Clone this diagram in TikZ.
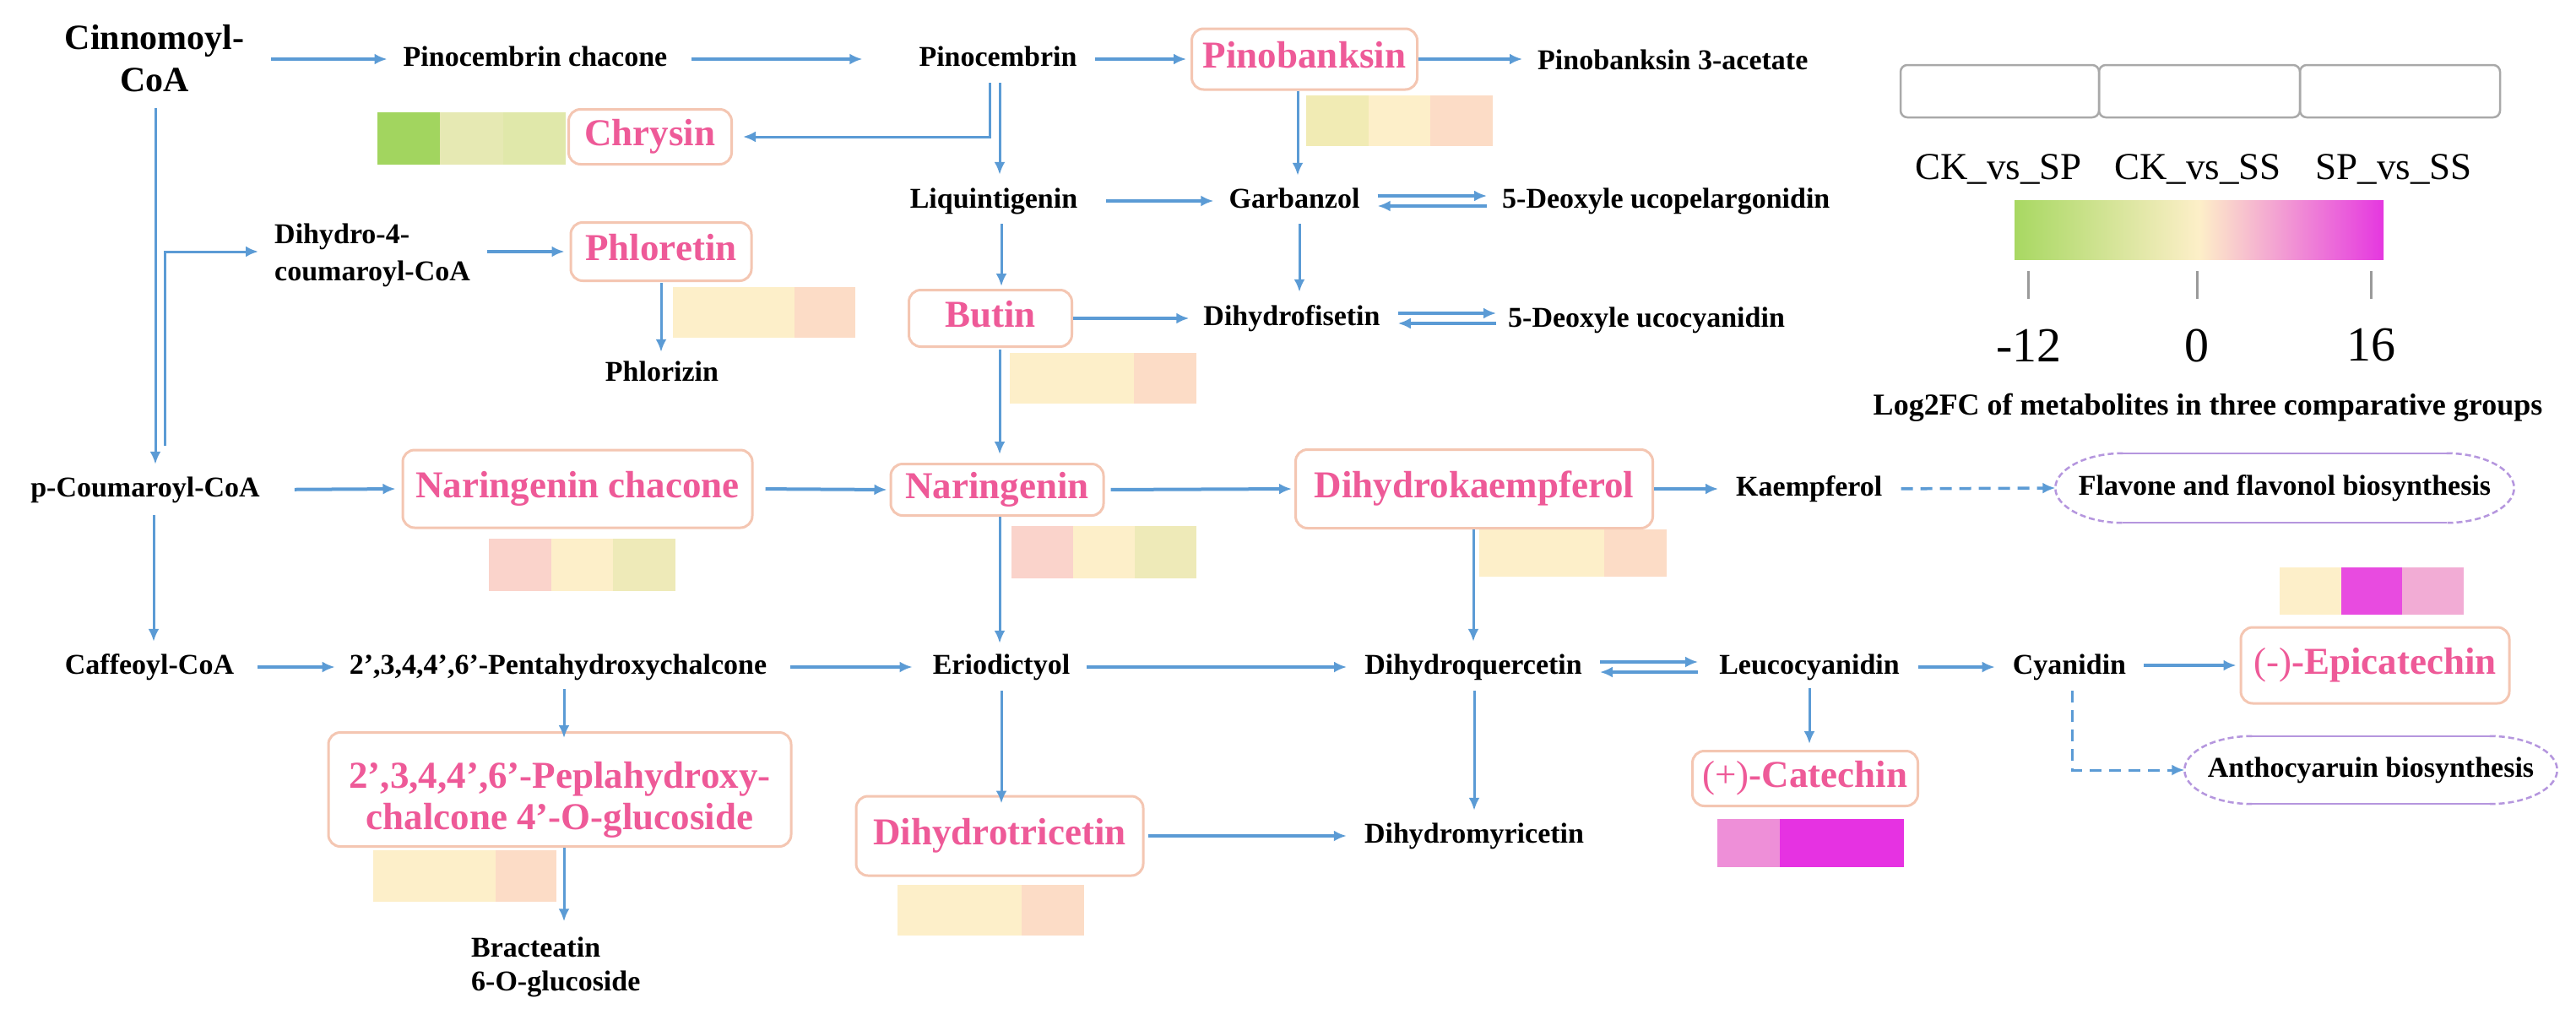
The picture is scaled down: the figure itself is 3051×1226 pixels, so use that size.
\documentclass[tikz,border=0pt]{standalone}
\usepackage{fontspec}
\setmainfont{Liberation Serif}
\usetikzlibrary{arrows.meta}
\definecolor{arrc}{HTML}{5B9BD5}
\definecolor{boxc}{HTML}{F4C6B2}
\definecolor{pinkt}{HTML}{EE5A98}
\definecolor{ovc}{HTML}{B596DE}
\definecolor{legc}{HTML}{A9A9A9}
\definecolor{tickc}{HTML}{9A9A9A}
\definecolor{hgreen}{HTML}{A2D55F}
\definecolor{hyga}{HTML}{E6E9B3}
\definecolor{hygb}{HTML}{E0E8AA}
\definecolor{hpby}{HTML}{F1EBB4}
\definecolor{hcream}{HTML}{FDEFC9}
\definecolor{hpeach}{HTML}{FCDCC6}
\definecolor{hpinkish}{HTML}{FAD3CB}
\definecolor{hyg}{HTML}{EEEAB8}
\definecolor{hmag}{HTML}{E84BE0}
\definecolor{hpink}{HTML}{F2ACD5}
\definecolor{hcpink}{HTML}{EE8FD8}
\definecolor{hcmag}{HTML}{E632E2}
\definecolor{barg}{HTML}{A8D862}
\definecolor{barc}{HTML}{FDEFC8}
\definecolor{barm}{HTML}{E537E0}

\newcommand\heatcells[7]{%
  \fill[#5] (#1,#3) rectangle ++(#2,#4);
  \fill[#6] ({#1+#2},#3) rectangle ++(#2,#4);
  \fill[#7] ({#1+2*#2},#3) rectangle ++(#2,#4);}

\newcommand\ovaloutline[1]{%
  \draw[ovl] ([xshift=80pt]#1.north west) -- ([xshift=-80pt]#1.north east);
  \draw[ovl] ([xshift=80pt]#1.south west) -- ([xshift=-80pt]#1.south east);
  \draw[ovl,dash pattern=on 7pt off 4pt] ([xshift=-80pt]#1.north east) .. controls ([xshift=-36pt]#1.north east) and ([yshift=22pt]#1.east) .. (#1.east) .. controls ([yshift=-22pt]#1.east) and ([xshift=-36pt]#1.south east) .. ([xshift=-80pt]#1.south east);
  \draw[ovl,dash pattern=on 7pt off 4pt] ([xshift=80pt]#1.north west) .. controls ([xshift=36pt]#1.north west) and ([yshift=22pt]#1.west) .. (#1.west) .. controls ([yshift=-22pt]#1.west) and ([xshift=36pt]#1.south west) .. ([xshift=80pt]#1.south west);}

\begin{document}
\begin{tikzpicture}[x=1pt,y=-1pt,
 lbl/.style={font=\bfseries\fontsize{34}{40}\selectfont,inner sep=0pt,text height=24pt,text depth=8pt},
 mlbl/.style={font=\bfseries\fontsize{34}{44}\selectfont,inner sep=0pt,align=left},
 pboxbase/.style={draw=boxc,line width=3pt,rounded corners=14pt,fill=white,text=pinkt,font=\bfseries\fontsize{45}{49}\selectfont,inner sep=0pt},
 pbox/.style={pboxbase,text height=31pt,text depth=10pt},
 ovalnode/.style={inner sep=0pt,font=\bfseries\fontsize{34}{40}\selectfont,text height=24pt,text depth=8pt},
 ovl/.style={draw=ovc,line width=2.5pt},
 arr/.style={draw=arrc,line width=4pt,-{Latex[length=15pt,width=13pt]}},
 varr/.style={arr,line width=3pt},
 barr/.style={arr,line width=3.5pt},
 darr/.style={arr,line width=3.5pt,dash pattern=on 14pt off 9pt},
 legbox/.style={draw=legc,line width=2.5pt,rounded corners=8pt},
 legtxt/.style={inner sep=0pt,font=\fontsize{45}{50}\selectfont},
 ticktxt/.style={inner sep=0pt,font=\fontsize{58}{64}\selectfont},
]
\fill[white] (0,0) rectangle (3051,1226);
\useasboundingbox (0,0) rectangle (3051,1226);

% heat maps
\heatcells{447}{74.3}{133}{62}{hgreen}{hyga}{hygb}
\heatcells{1547}{73.7}{113}{60}{hpby}{hcream}{hpeach}
\heatcells{797}{72}{340}{60}{hcream}{hcream}{hpeach}
\heatcells{1196}{73.7}{418}{60}{hcream}{hcream}{hpeach}
\heatcells{579}{73.7}{638}{62}{hpinkish}{hcream}{hyg}
\heatcells{1198}{73}{623}{62}{hpinkish}{hcream}{hyg}
\heatcells{1752}{74}{627}{56}{hcream}{hcream}{hpeach}
\heatcells{2700}{72.7}{672}{56}{hcream}{hmag}{hpink}
\heatcells{2034}{73.7}{970}{57}{hcpink}{hcmag}{hcmag}
\heatcells{442}{72.3}{1007}{61}{hcream}{hcream}{hpeach}
\heatcells{1063}{73.7}{1048}{60}{hcream}{hcream}{hpeach}

% nodes
\node[mlbl,align=center,font=\bfseries\fontsize{42}{50}\selectfont] (cin) at (183,69) {Cinnomoyl-\\CoA};
\node[lbl] (pcc) at (634,70) {Pinocembrin chacone};
\node[lbl] (pin) at (1182,70) {Pinocembrin};
\node[pbox,minimum width=267pt,minimum height=72pt] (pb) at (1545,70) {Pinobanksin};
\node[lbl,anchor=west] (pb3) at (1821,74) {Pinobanksin 3-acetate};
\node[pbox,minimum width=193pt,minimum height=65pt] (chr) at (770,162) {Chrysin};
\node[lbl] (liq) at (1177,238) {Liquintigenin};
\node[lbl] (gar) at (1533,238) {Garbanzol};
\node[lbl,anchor=west] (dup) at (1779,238) {5-Deoxyle ucopelargonidin};
\node[mlbl,anchor=west] (dih) at (325,302) {Dihydro-4-\\coumaroyl-CoA};
\node[pbox,minimum width=214pt,minimum height=69pt] (phl) at (783,298) {Phloretin};
\node[lbl] (phz) at (784,443) {Phlorizin};
\node[pbox,minimum width=193pt,minimum height=67pt] (but) at (1173,377) {Butin};
\node[lbl] (dfi) at (1530,377) {Dihydrofisetin};
\node[lbl,anchor=west] (duc) at (1786,379) {5-Deoxyle ucocyanidin};
\node[lbl] (pca) at (172,580) {p-Coumaroyl-CoA};
\node[pbox,minimum width=414pt,minimum height=92pt] (nch) at (684,579) {Naringenin chacone};
\node[pbox,minimum width=252pt,minimum height=61pt] (nar) at (1181,580) {Naringenin};
\node[pbox,minimum width=423pt,minimum height=93pt] (dhk) at (1746,579) {Dihydrokaempferol};
\node[lbl,anchor=west] (kae) at (2056,579) {Kaempferol};
\node[ovalnode,minimum width=543pt,minimum height=82pt] (flav) at (2706,578) {Flavone and flavonol biosynthesis};
\node[lbl] (caf) at (177,790) {Caffeoyl-CoA};
\node[lbl] (pen) at (661,790) {2’,3,4,4’,6’-Pentahydroxychalcone};
\node[lbl] (eri) at (1186,790) {Eriodictyol};
\node[lbl] (dhq) at (1745,790) {Dihydroquercetin};
\node[lbl] (leu) at (2143,790) {Leucocyanidin};
\node[lbl] (cya) at (2451,790) {Cyanidin};
\node[pbox,minimum width=318pt,minimum height=90pt] (epi) at (2813,788) {\textmd{(-)}-Epicatechin};
\node[pbox,minimum width=267pt,minimum height=65pt] (cat) at (2138,922) {\textmd{(+)}-Catechin};
\node[ovalnode,minimum width=441pt,minimum height=80pt] (ant) at (2808,912) {Anthocyaruin biosynthesis};
\node[pboxbase,minimum width=548pt,minimum height=135pt,align=center] (pep) at (663,935) {\rule{0pt}{55pt}2’,3,4,4’,6’-Peplahydroxy-\\chalcone 4’-O-glucoside};
\node[mlbl,anchor=west,font=\bfseries\fontsize{34}{40}\selectfont] (brc) at (558,1145) {Bracteatin\\6-O-glucoside};
\node[pbox,minimum width=340pt,minimum height=94pt] (dtr) at (1184,990) {Dihydrotricetin};
\node[lbl] (dmy) at (1746,990) {Dihydromyricetin};

\ovaloutline{flav}
\ovaloutline{ant}

% connectors
\draw[arr,shorten <=32pt,shorten >=19pt] (cin.east |- pcc.west) -- (pcc.west);
\draw[arr,shorten <=29pt,shorten >=67pt] (pcc.east) -- (pin.west);
\draw[arr,shorten <=21pt,shorten >=5pt] (pin.east) -- (pb.west);
\draw[arr,shorten >=18pt] (pb.east) -- (pb.east -| pb3.west);
\draw[varr,shorten <=12pt,shorten >=12pt] ([xshift=-10pt]pin.south) |- (chr.east);
\draw[varr,shorten <=12pt,shorten >=15pt] ([xshift=2pt]pin.south) -- ([xshift=2pt]pin.south |- liq.north);
\draw[varr,shorten >=14pt] ([xshift=-8pt]pb.south) -- ([xshift=-8pt]pb.south |- gar.north);
\draw[arr,shorten <=34pt,shorten >=18pt] (liq.east) -- (gar.west);
\draw[barr,shorten <=21pt,shorten >=18pt] ([yshift=6pt]gar.east) -- ([yshift=6pt]gar.east -| dup.west);
\draw[barr,shorten <=18pt,shorten >=21pt] ([yshift=-6pt]gar.east -| dup.west) -- ([yshift=-6pt]gar.east);
\draw[varr,shorten <=11pt,shorten >=3pt] ([xshift=9pt]liq.south) -- ([xshift=9pt]liq.south |- but.north);
\draw[varr,shorten <=11pt,shorten >=15pt] ([xshift=6pt]gar.south) -- ([xshift=6pt]gar.south |- dfi.north);
\draw[arr,shorten >=17pt] (but.east) -- (dfi.west);
\draw[barr,shorten <=21pt,shorten >=14pt] ([yshift=6pt]dfi.east) -- ([yshift=6pt]dfi.east -| duc.west);
\draw[barr,shorten <=14pt,shorten >=21pt] ([yshift=-6pt]dfi.east -| duc.west) -- ([yshift=-6pt]dfi.east);
\draw[varr,shorten <=2pt,shorten >=10pt] ([xshift=11pt]but.south) -- ([xshift=11pt]but.south |- nar.north);
\draw[varr,shorten <=19pt,shorten >=14pt] ([xshift=1pt]cin.south) -- ([xshift=1pt]cin.south |- pca.north);
\draw[varr,shorten <=36pt,shorten >=19pt] ([xshift=23pt]pca.north) |- (dih.west |- phl.west);
\draw[arr,shorten <=20pt,shorten >=6pt] (dih.east |- phl.west) -- (phl.west);
\draw[varr,shorten <=1pt,shorten >=10pt] (phl.south) -- (phl.south |- phz.north);
\draw[arr,shorten <=41pt,shorten >=7pt] (pca.east) -- (nch.west);
\draw[arr,shorten <=14pt,shorten >=3pt] (nch.east) -- (nar.west);
\draw[arr,shorten <=7pt,shorten >=3pt] (nar.east) -- (dhk.west);
\draw[arr,shorten >=21pt] (dhk.east) -- (kae.west);
\draw[darr,shorten <=22pt] (kae.east) -- (flav.west);
\draw[varr,shorten >=14pt] ([xshift=-1pt]dhk.south) -- ([xshift=-1pt]dhk.south |- dhq.north);
\draw[varr,shorten >=12pt] ([xshift=3pt]nar.south) -- ([xshift=3pt]nar.south |- eri.north);
\draw[varr,shorten <=14pt,shorten >=14pt] ([xshift=10pt]pca.south) -- ([xshift=10pt]pca.south |- caf.north);
\draw[arr,shorten <=28pt,shorten >=17pt] (caf.east) -- (pen.west);
\draw[arr,shorten <=28pt,shorten >=24pt] (pen.east) -- (eri.west);
\draw[arr,shorten <=20pt,shorten >=21pt] (eri.east) -- (dhq.west);
\draw[barr,shorten <=21pt,shorten >=25pt] ([yshift=6pt]dhq.east) -- ([yshift=6pt]dhq.east -| leu.west);
\draw[barr,shorten <=25pt,shorten >=21pt] ([yshift=-6pt]dhq.east -| leu.west) -- ([yshift=-6pt]dhq.east);
\draw[arr,shorten <=22pt,shorten >=21pt] (leu.east) -- (cya.west);
\draw[arr,shorten <=21pt,shorten >=4pt] (cya.east |- epi.west) -- (epi.west);
\draw[varr,shorten <=9pt,shorten >=7pt] (leu.south) -- (leu.south |- cat.north);
\draw[darr,line width=3pt,shorten <=12pt] ([xshift=3pt]cya.south) |- (ant.west);
\draw[varr,shorten <=10pt,shorten >=-8pt] ([xshift=7pt]pen.south) -- ([xshift=7pt]pen.south |- pep.north);
\draw[varr,shorten >=18pt] ([xshift=5pt]pep.south) -- ([xshift=5pt]pep.south |- brc.north);
\draw[varr,shorten <=12pt,shorten >=-10pt] (eri.south) -- (eri.south |- dtr.north);
\draw[arr,shorten <=4pt,shorten >=21pt] (dtr.east) -- (dmy.west);
\draw[varr,shorten <=12pt,shorten >=14pt] ([xshift=1pt]dhq.south) -- ([xshift=1pt]dhq.south |- dmy.north);

% legend
\draw[legbox] (2251,77) rectangle (2486,139);
\draw[legbox] (2486,77) rectangle (2724,139);
\draw[legbox] (2724,77) rectangle (2961,139);
\node[legtxt] (l1) at (2367,200) {CK\_vs\_SP};
\node[legtxt] (l2) at (2603,200) {CK\_vs\_SS};
\node[legtxt] (l3) at (2835,200) {SP\_vs\_SS};
\shade[left color=barg,right color=barm,middle color=barc] (2386,237) rectangle (2823,307);
\draw[tickc,line width=3pt] (2402,321) -- (2402,354);
\draw[tickc,line width=3pt] (2602,321) -- (2602,354);
\draw[tickc,line width=3pt] (2808,321) -- (2808,354);
\node[ticktxt] (t1) at (2403,409) {-12};
\node[ticktxt] (t2) at (2602,409) {0};
\node[ticktxt] (t3) at (2808,409) {16};
\node[inner sep=0pt,font=\bfseries\fontsize{36}{40}\selectfont] (lfc) at (2615,483) {Log2FC of metabolites in three comparative groups};
\end{tikzpicture}
\end{document}
